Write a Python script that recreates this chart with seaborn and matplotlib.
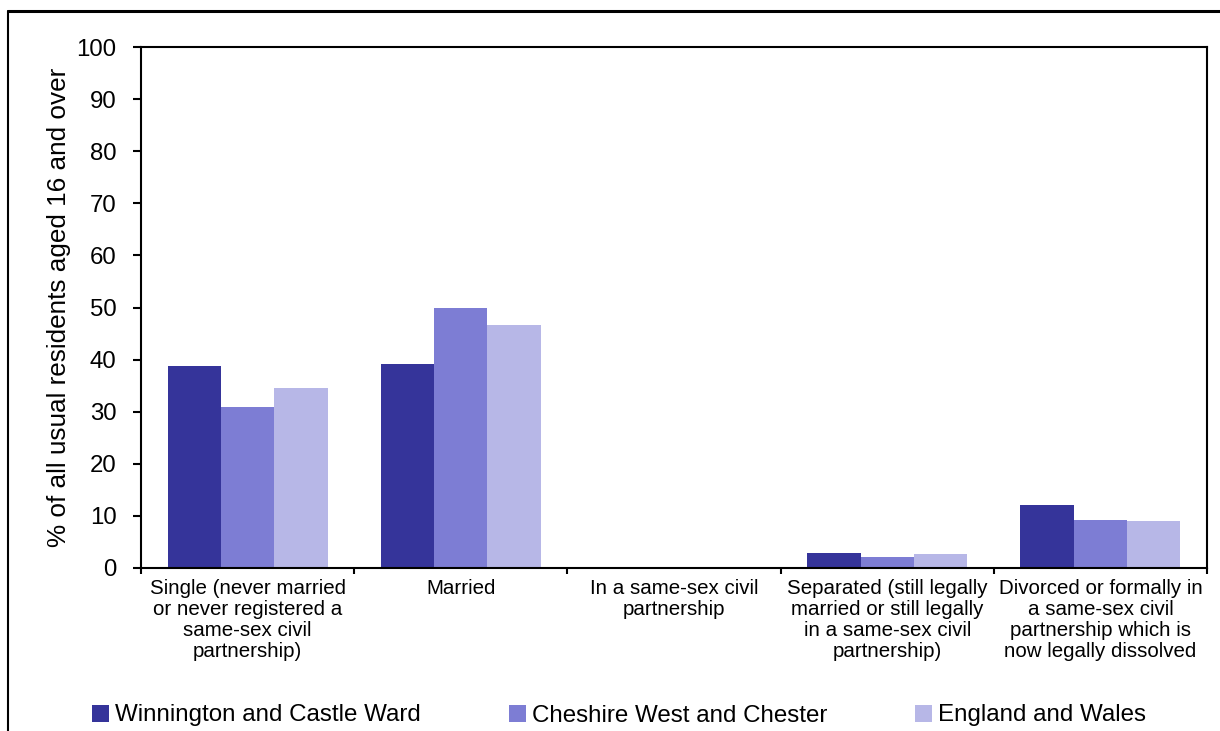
import numpy as np
import pandas as pd
import seaborn as sns
import matplotlib.pyplot as plt
from matplotlib.lines import Line2D
from matplotlib.ticker import FixedLocator

# data
categories = [
    "Single (never married\nor never registered a\nsame-sex civil\npartnership)",
    "Married",
    "In a same-sex civil\npartnership",
    "Separated (still legally\nmarried or still legally\nin a same-sex civil\npartnership)",
    "Divorced or formally in\na same-sex civil\npartnership which is\nnow legally dissolved",
]
areas = ["Winnington and Castle Ward", "Cheshire West and Chester", "England and Wales"]
winnington = [38.8, 39.1, 0.2, 2.9, 12.0]
cheshire = [30.9, 50.0, 0.2, 2.1, 9.3]
england = [34.6, 46.6, 0.2, 2.6, 9.0]
colors = ["#35349A", "#7D7DD4", "#B7B7E7"]
y_ticks = list(range(0, 101, 10))

df = pd.DataFrame({
    "category": categories * 3,
    "area": np.repeat(areas, len(categories)),
    "value": winnington + cheshire + england,
})

sns.set_style("white")
plt.rcParams["font.family"] = ["Liberation Sans", "DejaVu Sans"]
for key in ["text.color", "axes.labelcolor", "xtick.color", "ytick.color"]:
    plt.rcParams[key] = "black"

fig = plt.figure(figsize=(12.2, 7.31), dpi=100)
ax = fig.add_axes([141 / 1220, 1 - 568 / 731, (1207 - 141) / 1220, (568 - 47) / 731])

sns.barplot(data=df, x="category", y="value", hue="area", order=categories,
            hue_order=areas, palette=colors, width=0.75, gap=0, ax=ax,
            saturation=1, edgecolor="none", errorbar=None)

ax.set_xlim(-0.5, len(categories) - 0.5)
ax.set_ylim(0, 100)
ax.set_yticks(y_ticks)
ax.tick_params(axis="y", labelsize=17.3, direction="out", length=6, width=1.5,
               pad=11.5, left=True)
ax.tick_params(axis="x", which="major", length=0, pad=8)
ax.xaxis.set_minor_locator(FixedLocator(np.arange(-0.5, len(categories), 1)))
ax.tick_params(axis="x", which="minor", direction="out", length=4, width=1.5, bottom=True)
for lab in ax.get_xticklabels():
    lab.set_fontsize(14.8)
    lab.set_linespacing(1.12)
    lab.set_ha("center")
    lab.set_va("top")
ax.set_xlabel("")
ax.set_ylabel("% of all usual residents aged 16 and over", fontsize=18.8, labelpad=4)
for s in ax.spines.values():
    s.set_visible(True)
    s.set_color("black")
    s.set_linewidth(1.5)

handles, labels = ax.get_legend_handles_labels()
ax.get_legend().remove()
fig.legend(handles, labels, loc="center left", bbox_to_anchor=(92 / 1220, 1 - 715.5 / 731),
           ncol=3, frameon=False, fontsize=17.4, handlelength=0.7, handleheight=0.7,
           handletextpad=0.25, columnspacing=3.65, borderpad=0, borderaxespad=0)

# outer chart frame (top and left edges visible in the crop)
fig.add_artist(Line2D([8 / 1220, 1.01], [1 - 11 / 731, 1 - 11 / 731],
                      transform=fig.transFigure, color="black", lw=2.2))
fig.add_artist(Line2D([8 / 1220, 8 / 1220], [1 - 11 / 731, -0.01],
                      transform=fig.transFigure, color="black", lw=1.5))

fig.savefig("out.png", dpi=100)
